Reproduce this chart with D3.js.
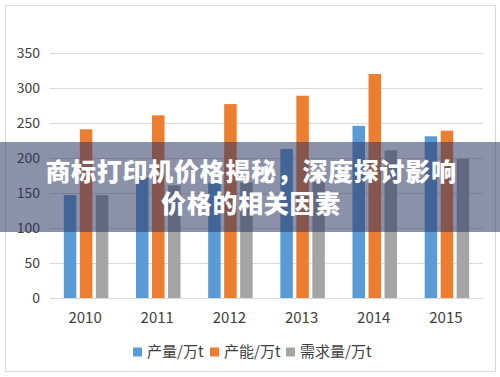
<!DOCTYPE html>
<html>
<head>
<meta charset="utf-8">
<script src="https://d3js.org/d3.v7.min.js"></script>
<title>产量 产能 需求量</title>
</head>
<style>
body { margin: 0; background: #fff; }
svg { display: block; font-family: "Noto Sans CJK SC", "Noto Sans", sans-serif; }
</style>
<body>
<svg width="500" height="377"></svg>
</body>
<script>

// values
let years = ["2010", "2011", "2012", "2013", "2014", "2015"];
let seriesNames = ["产量/万t", "产能/万t", "需求量/万t"];
let output = [147, 172, 164, 213, 246, 231];
let capacity = [241, 261, 277, 289, 320, 239];
let demand = [147, 161, 165, 166, 211, 199];
let yTicks = [0, 50, 100, 150, 200, 250, 300, 350];
let colors = ["#5B9BD5", "#ED7D31", "#A5A5A5"];
let titleLines = ["商标打印机价格揭秘，深度探讨影响", "价格的相关因素"];

let series = [output, capacity, demand];

let svg = d3.select("svg");

// outer frame
svg.append("rect")
  .attr("x", 5.5).attr("y", 5.5)
  .attr("width", 490).attr("height", 366)
  .attr("fill", "#fff")
  .attr("stroke", "#d9d9d9");

let x = d3.scaleBand().domain(years).range([50, 483]);
let y = d3.scaleLinear().domain([0, 350]).range([298, 53]);
let inner = d3.scaleBand().domain(d3.range(3)).range([0, 44.5]).paddingInner(0.22);

// gridlines
svg.append("g").selectAll("line")
  .data(yTicks)
  .enter().append("line")
    .attr("x1", 50).attr("x2", 483)
    .attr("y1", d => y(d) + 0.5).attr("y2", d => y(d) + 0.5)
    .attr("stroke", "#d9d9d9");

// y labels
svg.append("g").selectAll("text")
  .data(yTicks)
  .enter().append("text")
    .attr("x", 40)
    .attr("y", d => y(d))
    .attr("dy", "0.35em")
    .attr("text-anchor", "end")
    .attr("font-size", 14)
    .attr("fill", "#404040")
    .text(d => d);

// bars
let groups = svg.append("g").selectAll("g")
  .data(series)
  .enter().append("g")
    .attr("fill", (d, i) => colors[i]);

groups.each(function(vals, si) {
  d3.select(this).selectAll("rect")
    .data(vals)
    .enter().append("rect")
      .attr("x", (d, i) => x(years[i]) + (x.bandwidth() - 44.5) / 2 + inner(si))
      .attr("y", d => y(d))
      .attr("width", inner.bandwidth())
      .attr("height", d => y(0) - y(d));
});

// year labels
svg.append("g").selectAll("text")
  .data(years)
  .enter().append("text")
    .attr("x", d => x(d) + x.bandwidth() / 2 - 1)
    .attr("y", 318)
    .attr("dy", "0.35em")
    .attr("text-anchor", "middle")
    .attr("font-size", 15)
    .attr("fill", "#404040")
    .text(d => d);

// legend
let legendX = [133, 210, 286];
let legend = svg.append("g").selectAll("g")
  .data(seriesNames)
  .enter().append("g")
    .attr("transform", (d, i) => "translate(" + legendX[i] + ",352)");
legend.append("rect")
  .attr("x", 0).attr("y", -4.5)
  .attr("width", 9).attr("height", 9)
  .attr("fill", (d, i) => colors[i]);
legend.append("text")
  .attr("x", 14)
  .attr("dy", "0.35em")
  .attr("font-size", 15)
  .attr("fill", "#404040")
  .text(d => d);

// banner overlay
svg.append("rect")
  .attr("x", 0).attr("y", 142)
  .attr("width", 500).attr("height", 90)
  .attr("fill", "rgba(45,55,100,0.55)");

svg.append("g").selectAll("text")
  .data(titleLines)
  .enter().append("text")
    .attr("x", 251)
    .attr("y", (d, i) => 172 + i * 32)
    .attr("dy", "0.35em")
    .attr("text-anchor", "middle")
    .attr("font-size", 25)
    .attr("font-weight", 900)
    .attr("letter-spacing", 0.7)
    .attr("fill", "#fff")
    .text(d => d);

</script>
</html>
